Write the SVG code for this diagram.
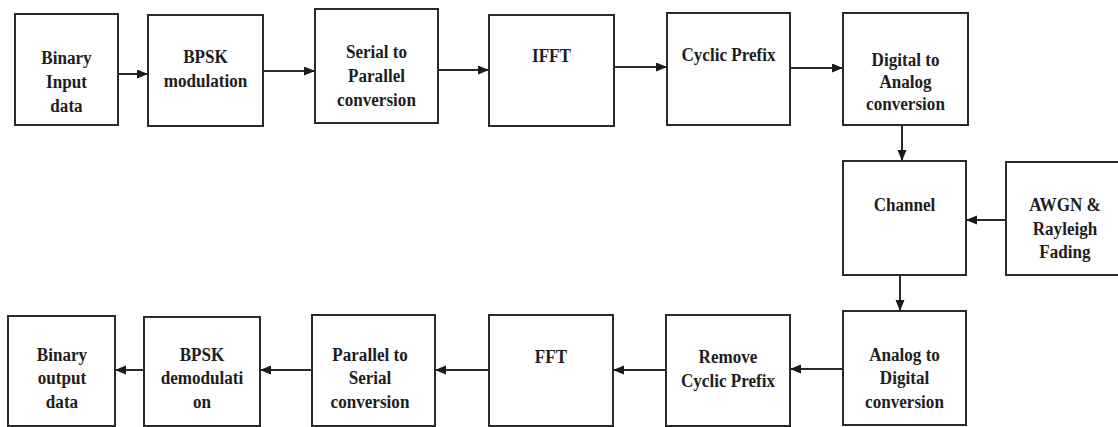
<svg xmlns="http://www.w3.org/2000/svg" width="1118" height="427" viewBox="0 0 1118 427">
<style>
.box{fill:#fff;stroke:#2a2a2a;stroke-width:2}
.lbl{font-family:'Liberation Serif','DejaVu Serif',serif;font-weight:700;font-size:19px;fill:#1e1e1e;text-anchor:middle}
.con{stroke:#2a2a2a;stroke-width:2;fill:none;marker-end:url(#ah)}
</style>
<defs>
<marker id="ah" markerUnits="userSpaceOnUse" markerWidth="12" markerHeight="10" refX="11" refY="4.5" orient="auto">
<path d="M0,0 L11,4.5 L0,9 z" fill="#1a1a1a"/>
</marker>
</defs>
<rect width="1118" height="427" fill="#fff"/>
<g id="connectors">
<line class="con" x1="118" y1="74" x2="148" y2="74"/>
<line class="con" x1="263" y1="71" x2="315" y2="71"/>
<line class="con" x1="438" y1="70" x2="489" y2="70"/>
<line class="con" x1="614" y1="67" x2="667" y2="67"/>
<line class="con" x1="790" y1="68" x2="843" y2="68"/>
<line class="con" x1="902" y1="125" x2="902" y2="161"/>
<line class="con" x1="1006" y1="220" x2="966" y2="220"/>
<line class="con" x1="900" y1="275" x2="900" y2="311"/>
<line class="con" x1="843" y1="369" x2="790" y2="369"/>
<line class="con" x1="666" y1="370" x2="613" y2="370"/>
<line class="con" x1="489" y1="370" x2="435" y2="370"/>
<line class="con" x1="312" y1="370" x2="260" y2="370"/>
<line class="con" x1="144" y1="370" x2="115" y2="370"/>
</g>
<g font-family="Liberation Serif, serif" font-weight="bold">
<g id="binary-input">
<rect class="box" x="15" y="14" width="103" height="111"/>
<text class="lbl" transform="translate(66.5,64) scale(0.9,1)"><tspan x="0" y="0">Binary</tspan><tspan x="0" y="24">Input</tspan><tspan x="0" y="48">data</tspan></text>
</g>
<g id="bpsk-mod">
<rect class="box" x="148" y="15" width="115" height="111"/>
<text class="lbl" transform="translate(205.5,63) scale(0.9,1)"><tspan x="0" y="0">BPSK</tspan><tspan x="0" y="24">modulation</tspan></text>
</g>
<g id="s2p">
<rect class="box" x="315" y="9" width="123" height="114"/>
<text class="lbl" transform="translate(376.5,58) scale(0.9,1)"><tspan x="0" y="0">Serial to</tspan><tspan x="0" y="24">Parallel</tspan><tspan x="0" y="48">conversion</tspan></text>
</g>
<g id="ifft">
<rect class="box" x="489" y="15" width="125" height="111"/>
<text class="lbl" transform="translate(551.5,62) scale(0.9,1)">IFFT</text>
</g>
<g id="cyclic-prefix">
<rect class="box" x="667" y="13" width="123" height="112"/>
<text class="lbl" transform="translate(728.5,61) scale(0.9,1)">Cyclic Prefix</text>
</g>
<g id="dac">
<rect class="box" x="843" y="13" width="125" height="112"/>
<text class="lbl" transform="translate(905.5,66) scale(0.9,1)"><tspan x="0" y="0">Digital to</tspan><tspan x="0" y="22">Analog</tspan><tspan x="0" y="44">conversion</tspan></text>
</g>
<g id="channel">
<rect class="box" x="843" y="161" width="123" height="114"/>
<text class="lbl" transform="translate(904.5,211) scale(0.9,1)">Channel</text>
</g>
<g id="awgn">
<rect class="box" x="1006" y="162" width="120" height="113"/>
<text class="lbl" transform="translate(1065,211) scale(0.9,1)"><tspan x="0" y="0">AWGN &amp;</tspan><tspan x="0" y="24">Rayleigh</tspan><tspan x="0" y="47">Fading</tspan></text>
</g>
<g id="adc">
<rect class="box" x="843" y="311" width="123" height="114"/>
<text class="lbl" transform="translate(904.5,361) scale(0.9,1)"><tspan x="0" y="0">Analog to</tspan><tspan x="0" y="23.5">Digital</tspan><tspan x="0" y="47">conversion</tspan></text>
</g>
<g id="remove-cp">
<rect class="box" x="666" y="315" width="124" height="111"/>
<text class="lbl" transform="translate(728,363) scale(0.9,1)"><tspan x="0" y="0">Remove</tspan><tspan x="0" y="24">Cyclic Prefix</tspan></text>
</g>
<g id="fft">
<rect class="box" x="489" y="315" width="124" height="111"/>
<text class="lbl" transform="translate(551,363) scale(0.9,1)">FFT</text>
</g>
<g id="p2s">
<rect class="box" x="312" y="315" width="123" height="111"/>
<text class="lbl" transform="translate(370,361) scale(0.9,1)"><tspan x="0" y="0">Parallel to</tspan><tspan x="0" y="23.5">Serial</tspan><tspan x="0" y="47">conversion</tspan></text>
</g>
<g id="bpsk-demod">
<rect class="box" x="144" y="317" width="116" height="109"/>
<text class="lbl" transform="translate(202,361) scale(0.9,1)"><tspan x="0" y="0">BPSK</tspan><tspan x="0" y="23.5">demodulati</tspan><tspan x="0" y="47">on</tspan></text>
</g>
<g id="binary-output">
<rect class="box" x="8" y="316" width="107" height="110"/>
<text class="lbl" transform="translate(62,361) scale(0.9,1)"><tspan x="0" y="0">Binary</tspan><tspan x="0" y="23.5">output</tspan><tspan x="0" y="47">data</tspan></text>
</g>
</g>
</svg>
